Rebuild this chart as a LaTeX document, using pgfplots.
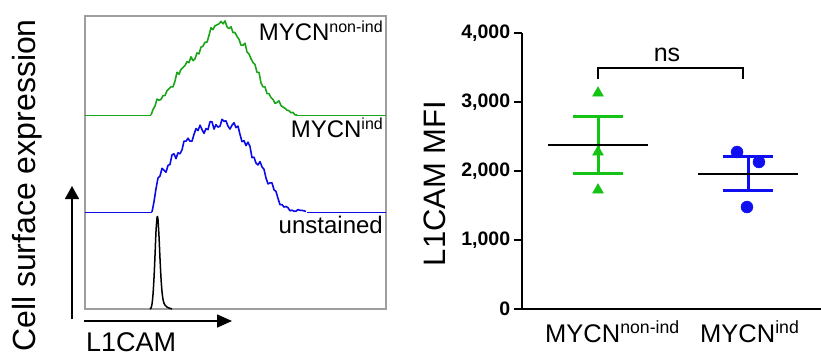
\documentclass[border=0pt]{standalone}
\usepackage{pgfplots}
\pgfplotsset{compat=1.18}
\usepackage{pgfplotstable}
\usepackage{fontspec}
\setmainfont{Liberation Sans}
\usetikzlibrary{arrows.meta}
\newcommand\fs[1]{\fontsize{#1}{#1}\selectfont}
\newcommand\supx[3]{\raisebox{#2pt}{\fs{#1}#3}}
\definecolor{hgreen}{RGB}{25,165,25}
\definecolor{hblue}{RGB}{10,10,235}
\definecolor{dgreen}{RGB}{20,195,20}
\definecolor{dblue}{RGB}{15,15,240}

\pgfplotstableread{
x h
151 0
152 0.011
153 0.055
154 0.059
155 0.093
156 0.085
157 0.164
158 0.155
159 0.152
160 0.221
161 0.16
162 0.225
163 0.20
164 0.27
165 0.20
166 0.29
167 0.25
168 0.315
169 0.27
170 0.355
171 0.29
172 0.335
173 0.29
174 0.385
175 0.35
176 0.335
177 0.44
178 0.35
179 0.42
180 0.405
181 0.47
182 0.395
183 0.49
184 0.45
185 0.51
186 0.46
187 0.55
188 0.495
189 0.54
190 0.495
191 0.60
192 0.575
193 0.56
194 0.665
195 0.58
196 0.655
197 0.64
198 0.705
199 0.63
200 0.73
201 0.70
202 0.76
203 0.71
204 0.805
205 0.75
206 0.795
207 0.75
208 0.85
209 0.82
210 0.80
211 0.90
212 0.81
213 0.88
214 0.86
215 0.92
216 0.84
217 0.93
218 0.885
219 0.94
220 0.885
221 0.965
222 0.905
223 0.94
224 0.885
225 0.97
226 0.94
227 0.91
228 0.965
229 0.89
230 0.945
231 0.91
232 0.95
233 0.85
234 0.915
235 0.85
236 0.885
237 0.81
238 0.87
239 0.78
240 0.795
241 0.72
242 0.785
243 0.72
244 0.67
245 0.74
246 0.615
247 0.65
248 0.60
249 0.63
250 0.52
251 0.58
252 0.51
253 0.54
254 0.46
255 0.52
256 0.43
257 0.44
258 0.365
259 0.44
260 0.38
261 0.33
262 0.405
263 0.29
264 0.335
265 0.29
266 0.325
267 0.22
268 0.285
269 0.22
270 0.255
271 0.18
272 0.245
273 0.16
274 0.175
275 0.12
276 0.164
277 0.13
278 0.102
279 0.146
280 0.076
281 0.096
282 0.077
283 0.082
284 0.05
285 0.069
286 0.044
287 0.049
288 0.026
289 0.045
290 0.019
291 0.023
292 0.002
293 0.027
294 0.012
295 0.001
296 0.02
297 0
}\greendata

\pgfplotstableread{
x h
152 0
153 0.082
154 0.106
155 0.208
156 0.24
157 0.22
158 0.35
159 0.32
160 0.37
161 0.33
162 0.45
163 0.38
164 0.43
165 0.485
166 0.41
167 0.495
168 0.48
169 0.535
170 0.49
171 0.515
172 0.59
173 0.52
174 0.60
175 0.595
176 0.55
177 0.66
178 0.61
179 0.65
180 0.60
181 0.715
182 0.64
183 0.68
184 0.73
185 0.65
186 0.73
187 0.71
188 0.76
189 0.71
190 0.73
191 0.80
192 0.73
193 0.81
194 0.80
195 0.75
196 0.86
197 0.805
198 0.84
199 0.79
200 0.895
201 0.81
202 0.85
203 0.895
204 0.81
205 0.885
206 0.86
207 0.905
208 0.85
209 0.865
210 0.93
211 0.855
212 0.93
213 0.91
214 0.855
215 0.96
216 0.90
217 0.935
218 0.875
219 0.96
220 0.885
221 0.915
222 0.955
223 0.865
224 0.935
225 0.905
226 0.94
227 0.88
228 0.885
229 0.94
230 0.855
231 0.92
232 0.895
233 0.83
234 0.92
235 0.85
236 0.87
237 0.80
238 0.885
239 0.78
240 0.80
241 0.83
242 0.725
243 0.78
244 0.735
245 0.76
246 0.685
247 0.68
248 0.72
249 0.62
250 0.675
251 0.64
252 0.56
253 0.64
254 0.565
255 0.58
256 0.505
257 0.59
258 0.485
259 0.50
260 0.52
261 0.41
262 0.465
263 0.42
264 0.44
265 0.36
266 0.35
267 0.39
268 0.29
269 0.34
270 0.30
271 0.22
272 0.30
273 0.22
274 0.23
275 0.166
276 0.211
277 0.142
278 0.14
279 0.144
280 0.075
281 0.096
282 0.077
283 0.079
284 0.051
285 0.044
286 0.057
287 0.028
288 0.044
289 0.033
290 0.013
291 0.04
292 0.019
293 0.026
294 0.008
295 0.038
296 0.009
297 0.015
298 0.025
299 0.0
300 0.017
301 0.007
302 0.017
303 0.004
304 0.012
305 0.003
306 0.006
307 0
}\bluedata

\pgfplotstableread{
x h
150 0
151 0.01
152 0.05
153 0.15
154 0.32
155 0.55
156 0.80
157 0.94
157.5 0.95
158 0.92
159 0.75
160 0.52
161 0.32
162 0.18
163 0.10
164 0.06
165 0.04
167 0.02
169 0.01
172 0
}\blackdata

\begin{document}
\begin{tikzpicture}
\useasboundingbox (0pt,0pt) rectangle (821pt,-356pt);

% ---------- left panel: histograms ----------
\begin{axis}[
  at={(85pt,-309pt)}, anchor=south west,
  scale only axis, width=301pt, height=293pt,
  xmin=85, xmax=386, ymin=0, ymax=3.0206,
  ticks=none,
  axis line style={draw=black!38, line width=1.3pt},
]
\addplot[hgreen, line width=0.9pt] coordinates {(85,2) (151,2)};
\addplot[hgreen, line width=0.9pt] coordinates {(297,2) (386,2)};
\addplot[hgreen, line width=1.6pt, line join=round, each nth point=2] table[x=x, y expr=\thisrow{h}+2] {\greendata};
\addplot[hblue, line width=0.9pt] coordinates {(85,1) (152,1)};
\addplot[hblue, line width=0.9pt] coordinates {(307,1) (386,1)};
\addplot[hblue, line width=1.6pt, line join=round, each nth point=2] table[x=x, y expr=\thisrow{h}+1] {\bluedata};
\addplot[black, line width=1.5pt, line join=round, smooth] table[x=x, y=h] {\blackdata};
\end{axis}

\node[anchor=base east, inner sep=0pt] at (383pt,-40pt) {\fs{24}MYCN\supx{16}{8}{non-ind}};
\node[anchor=base east, inner sep=0pt] at (383pt,-137pt) {\fs{24}MYCN\supx{16}{8}{ind}};
\node[anchor=base east, inner sep=0pt] at (383pt,-233pt) {\fs{24}unstained};

\draw[line width=1.6pt, -{Triangle[length=13pt, width=14pt]}] (72pt,-319pt) -- (72pt,-186pt);
\draw[line width=1.6pt, -{Triangle[length=15pt, width=13pt]}] (84pt,-321pt) -- (232pt,-321pt);
\node[anchor=base west, inner sep=0pt] at (86pt,-351pt) {\fs{27}L1CAM};
\node[anchor=base, rotate=90, inner sep=0pt] at (35pt,-185.5pt) {\fs{32}Cell surface expression};

% ---------- right panel: dot plot ----------
\begin{axis}[
  at={(521.7pt,-309pt)}, anchor=south west,
  scale only axis, width=299.3pt, height=276pt,
  xmin=-0.5087, xmax=1.4867, ymin=0, ymax=4000,
  axis x line=bottom, axis y line=left,
  axis line style={-, line width=2pt, black},
  xtick=\empty,
  ytick={0,1000,2000,3000,4000},
  tick align=outside, major tick length=8pt,
  tick style={line width=2pt, black},
  y tick label style={font=\bfseries\fs{19.5}},
  /pgf/number format/assume math mode=true,
  /pgf/number format/1000 sep={,},
  clip=false,
]
% green group
\addplot[dgreen, line width=3pt] coordinates {(0,1966) (0,2797)};
\addplot[dgreen, line width=3pt] coordinates {(-0.167,2797) (0.167,2797)};
\addplot[dgreen, line width=3pt] coordinates {(-0.167,1966) (0.167,1966)};
\addplot[only marks, mark=triangle*, mark size=6.3pt, dgreen] coordinates {(0,3130) (0,2275) (0,1725)};
\addplot[black, line width=2pt] coordinates {(-0.333,2377) (0.333,2377)};
% blue group
\addplot[dblue, line width=3pt] coordinates {(1,1715) (1,2203)};
\addplot[dblue, line width=3pt] coordinates {(0.833,2203) (1.167,2203)};
\addplot[dblue, line width=3pt] coordinates {(0.833,1715) (1.167,1715)};
\addplot[only marks, mark=*, mark size=6pt, dblue] coordinates {(0.927,2275) (1.073,2130) (0.993,1478)};
\addplot[black, line width=2pt] coordinates {(0.667,1957) (1.333,1957)};
% significance bracket
\addplot[black, line width=2pt, line join=miter] coordinates {(0,3333) (0,3493) (0.967,3493) (0.967,3333)};
\end{axis}

\node[anchor=base, inner sep=0pt] at (667pt,-61pt) {\fs{25}ns};
\node[anchor=base, rotate=90, inner sep=0pt] at (445pt,-183.5pt) {\fs{31}L1CAM MFI};
\node[anchor=base west, inner sep=0pt] at (545pt,-342pt) {\fs{25.5}MYCN\supx{17.7}{9}{non-ind}};
\node[anchor=base west, inner sep=0pt] at (700pt,-342pt) {\fs{25.5}MYCN\supx{17.7}{9}{ind}};
\end{tikzpicture}
\end{document}
